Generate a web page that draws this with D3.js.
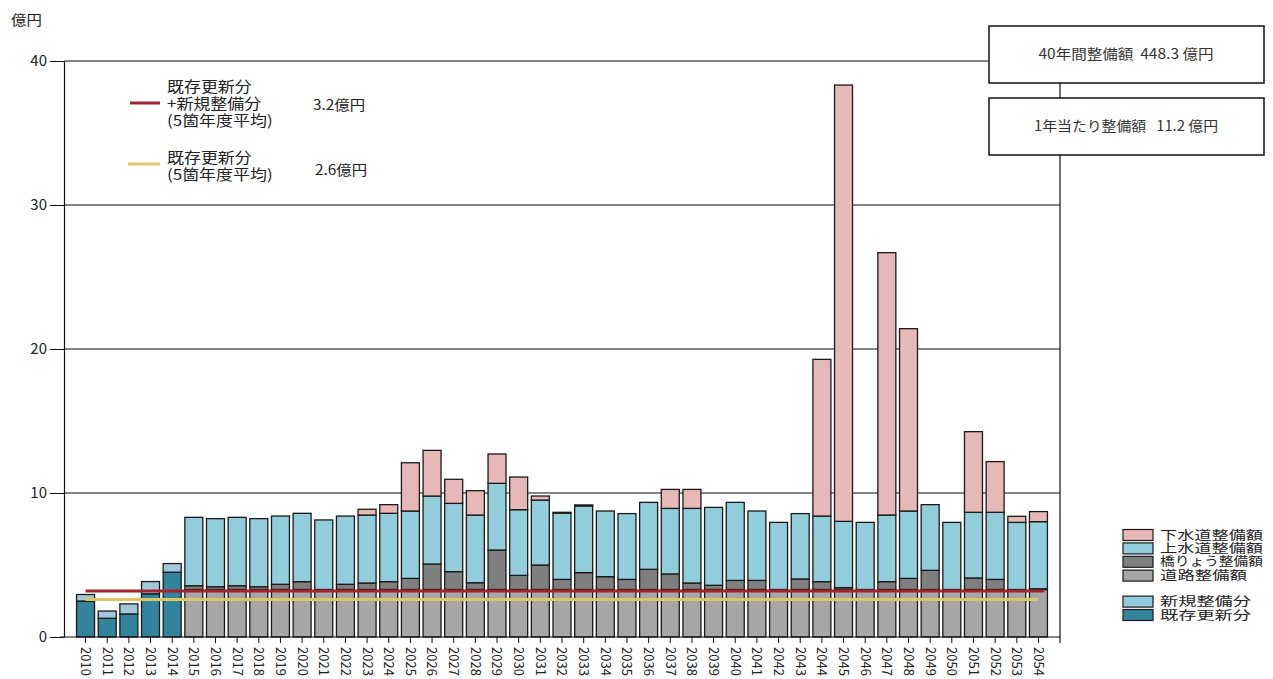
<!DOCTYPE html>
<html>
<head>
<meta charset="utf-8">
<script src="https://cdn.jsdelivr.net/npm/d3@7"></script>
<style>
  body { margin: 0; background: #fff; }
  text { font-family: "Noto Sans CJK JP", "Noto Sans", sans-serif; fill: #222; }
</style>
</head>
<body>
<div id="chart"></div>
<script>
// categories
const years = [2010, 2011, 2012, 2013, 2014, 2015, 2016, 2017, 2018, 2019,
  2020, 2021, 2022, 2023, 2024, 2025, 2026, 2027, 2028, 2029,
  2030, 2031, 2032, 2033, 2034, 2035, 2036, 2037, 2038, 2039,
  2040, 2041, 2042, 2043, 2044, 2045, 2046, 2047, 2048, 2049,
  2050, 2051, 2052, 2053, 2054];

// 2010-2014 (億円)
const existing = [2.5, 1.3, 1.6, 3.0, 4.5];
const newWorks = [0.45, 0.5, 0.7, 0.85, 0.6];

// 2015-2054 (億円)
const road = [3.3, 3.3, 3.3, 3.3, 3.3, 3.3, 3.3, 3.3, 3.3, 3.3,
  3.3, 3.3, 3.3, 3.3, 3.3, 3.3, 3.3, 3.3, 3.3, 3.3,
  3.3, 3.3, 3.3, 3.3, 3.3, 3.3, 3.3, 3.3, 3.3, 3.3,
  3.3, 3.3, 3.3, 3.3, 3.3, 3.3, 3.3, 3.3, 3.3, 3.3];
const bridge = [0.26, 0.19, 0.26, 0.19, 0.36, 0.54, 0, 0.36, 0.45, 0.54,
  0.77, 1.77, 1.24, 0.47, 2.74, 0.98, 1.7, 0.7, 1.17, 0.89,
  0.7, 1.4, 1.08, 0.45, 0.29, 0.63, 0.63, 0, 0.73, 0.54,
  0.13, 0, 0.54, 0.77, 1.33, 0, 0.8, 0.7, 0, 0.05];
const water = [4.75, 4.73, 4.75, 4.73, 4.74, 4.75, 4.83, 4.74, 4.72, 4.75,
  4.68, 4.72, 4.74, 4.70, 4.63, 4.56, 4.51, 4.6, 4.63, 4.56,
  4.57, 4.65, 4.55, 5.18, 5.41, 5.42, 4.82, 4.66, 4.54, 4.56,
  4.6, 4.66, 4.63, 4.68, 4.56, 4.66, 4.56, 4.66, 4.66, 4.66];
const sewer = [0, 0, 0, 0, 0, 0, 0, 0, 0.4, 0.6,
  3.35, 3.17, 1.67, 1.69, 2.04, 2.27, 0.28, 0.06, 0.07, 0,
  0, 0, 1.32, 1.32, 0, 0, 0, 0, 0, 10.88,
  30.3, 0, 18.22, 12.66, 0, 0, 5.6, 3.52, 0.42, 0.7];

// 5箇年度平均
const avgTotal = 3.2;
const avgExisting = 2.6;

const yTicks = [0, 10, 20, 30, 40];

const keys = ['existing', 'newWorks', 'road', 'bridge', 'water', 'sewer'];
const colors = {
  existing: '#31849b',
  newWorks: '#a2c8dc',
  road: '#a6a6a6',
  bridge: '#7f7f7f',
  water: '#92cddc',
  sewer: '#e6b9b8'
};

const rows = years.map((yr, i) => {
  const j = i - existing.length;
  return {
    year: yr,
    existing: existing[i] || 0,
    newWorks: newWorks[i] || 0,
    road: j >= 0 ? road[j] : 0,
    bridge: j >= 0 ? bridge[j] : 0,
    water: j >= 0 ? water[j] : 0,
    sewer: j >= 0 ? sewer[j] : 0
  };
});

const width = 1273, height = 679;
const plotL = 64, plotR = 1060, plotT = 61, plotB = 637;

const svg = d3.select('#chart').append('svg')
  .attr('width', width)
  .attr('height', height);

const x = d3.scaleBand().domain(years).range([plotL, plotR])
  .paddingInner(0.17).paddingOuter(0.58);
const y = d3.scaleLinear().domain([0, 40]).range([plotB, plotT]);

// gridlines
svg.append('g').selectAll('line')
  .data(yTicks.filter(d => d > 0))
  .enter().append('line')
  .attr('x1', plotL).attr('x2', plotR)
  .attr('y1', d => y(d)).attr('y2', d => y(d))
  .attr('stroke', '#111').attr('stroke-width', 1);

// stacked bars
const series = d3.stack().keys(keys)(rows);
svg.append('g').selectAll('g')
  .data(series)
  .enter().append('g')
  .attr('fill', d => colors[d.key])
  .selectAll('rect')
  .data(d => d.filter(s => s[1] - s[0] > 0))
  .enter().append('rect')
  .attr('x', d => x(d.data.year))
  .attr('width', x.bandwidth())
  .attr('y', d => y(d[1]))
  .attr('height', d => y(d[0]) - y(d[1]))
  .attr('stroke', '#1a1a1a')
  .attr('stroke-width', 1.3);

// average lines
const firstC = x(years[0]) + x.bandwidth() / 2;
const lastC = x(years[years.length - 1]) + x.bandwidth() / 2;
svg.append('line')
  .attr('x1', firstC).attr('x2', lastC + 6)
  .attr('y1', y(avgTotal)).attr('y2', y(avgTotal))
  .attr('stroke', '#a3242a').attr('stroke-width', 3);
svg.append('line')
  .attr('x1', firstC).attr('x2', lastC)
  .attr('y1', y(avgExisting)).attr('y2', y(avgExisting))
  .attr('stroke', '#dcc665').attr('stroke-width', 3);

// x axis
const xAxis = svg.append('g')
  .attr('transform', 'translate(0,' + plotB + ')')
  .call(d3.axisBottom(x).tickSize(6).tickSizeOuter(0));
xAxis.select('.domain').remove();
xAxis.selectAll('line').attr('stroke', '#111');
xAxis.selectAll('text')
  .attr('transform', 'rotate(90)')
  .attr('x', 10).attr('y', 0).attr('dy', '0.35em')
  .style('text-anchor', 'start')
  .style('font-size', '13px')
  .style('fill', '#222');
svg.append('line')
  .attr('x1', plotL - 4).attr('x2', plotR)
  .attr('y1', plotB).attr('y2', plotB)
  .attr('stroke', '#111').attr('stroke-width', 1.2);

// y axis
const yAxis = svg.append('g')
  .attr('transform', 'translate(' + plotL + ',0)')
  .call(d3.axisLeft(y).tickValues(yTicks).tickSize(14).tickSizeOuter(0).tickPadding(3));
yAxis.select('.domain').attr('stroke', '#111').attr('stroke-width', 1.2);
yAxis.selectAll('line').attr('stroke', '#111');
yAxis.selectAll('text').style('font-size', '15px').style('fill', '#222');

// right border
svg.append('line')
  .attr('x1', plotR).attr('x2', plotR)
  .attr('y1', plotT).attr('y2', plotB + 6)
  .attr('stroke', '#111').attr('stroke-width', 1.2);

function jpText(g, tx, ty, str, size, sx) {
  return g.append('text')
    .attr('transform', 'translate(' + tx + ',' + ty + ') scale(' + sx + ',1)')
    .attr('dy', '0.35em')
    .style('font-size', size + 'px')
    .text(str);
}

// unit label
jpText(svg, 11, 20, '億円', 14, 1.1);

// summary boxes
const boxes = [
  { y0: 26, text: '40年間整備額\u00a0\u00a0448.3\u00a0億円', len: 175 },
  { y0: 98, text: '1年当たり整備額\u00a0\u00a0\u00a011.2\u00a0億円', len: 184 }
];
boxes.forEach(b => {
  svg.append('rect')
    .attr('x', 989).attr('y', b.y0)
    .attr('width', 275).attr('height', 57)
    .attr('fill', '#fff').attr('stroke', '#111').attr('stroke-width', 1.5);
  svg.append('text')
    .attr('x', 1126).attr('y', b.y0 + 28.5)
    .attr('dy', '0.35em')
    .attr('text-anchor', 'middle')
    .attr('textLength', b.len)
    .attr('lengthAdjust', 'spacingAndGlyphs')
    .style('font-size', '14px')
    .style('fill', '#333')
    .text(b.text);
});

// average line legend (top left)
const lg = svg.append('g');
lg.append('line').attr('x1', 130).attr('x2', 160).attr('y1', 103).attr('y2', 103)
  .attr('stroke', '#a3242a').attr('stroke-width', 3);
jpText(lg, 167, 87, '既存更新分', 14.5, 1.17);
jpText(lg, 167, 104, '+新規整備分', 14.5, 1.17);
jpText(lg, 167, 121, '(5箇年度平均)', 14.5, 1.17);
jpText(lg, 313, 105, avgTotal.toFixed(1) + '億円', 14, 1.1);
lg.append('line').attr('x1', 128).attr('x2', 160).attr('y1', 164).attr('y2', 164)
  .attr('stroke', '#dcc665').attr('stroke-width', 3);
jpText(lg, 167, 158, '既存更新分', 14.5, 1.17);
jpText(lg, 167, 175, '(5箇年度平均)', 14.5, 1.17);
jpText(lg, 315, 170, avgExisting.toFixed(1) + '億円', 14, 1.1);

// series legend (bottom right)
const legendItems = [
  { key: 'sewer', label: '下水道整備額', cy: 535, len: 103 },
  { key: 'water', label: '上水道整備額', cy: 548.4, len: 103 },
  { key: 'bridge', label: '橋りょう整備額', cy: 561.8, len: 103 },
  { key: 'road', label: '道路整備額', cy: 575.6, len: 87 },
  { key: 'water', label: '新規整備分', cy: 601.6, len: 91 },
  { key: 'existing', label: '既存更新分', cy: 615, len: 91 }
];
const rg = svg.append('g');
legendItems.forEach(it => {
  rg.append('rect')
    .attr('x', 1123).attr('y', it.cy - 5.5)
    .attr('width', 30).attr('height', 11)
    .attr('fill', colors[it.key])
    .attr('stroke', '#1a1a1a').attr('stroke-width', 1.2);
  rg.append('text')
    .attr('x', 1160).attr('y', it.cy)
    .attr('dy', '0.36em')
    .attr('textLength', it.len)
    .attr('lengthAdjust', 'spacingAndGlyphs')
    .style('font-size', '12.5px')
    .text(it.label);
});
</script>
</body>
</html>
